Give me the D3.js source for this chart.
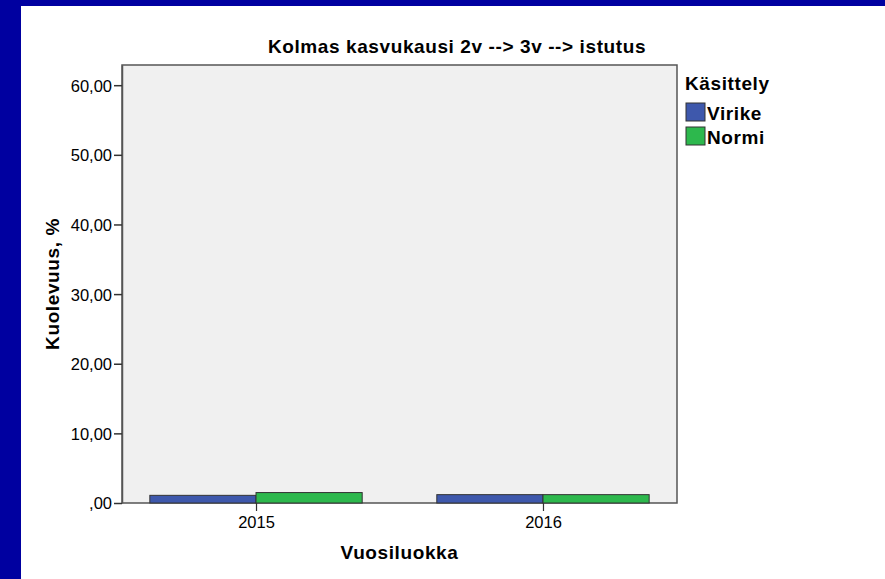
<!DOCTYPE html>
<html>
<head>
<meta charset="utf-8">
<script src="https://cdn.jsdelivr.net/npm/d3@7"></script>
<style>
  body { margin: 0; background: #fff; }
  text { font-family: "Liberation Sans", Arial, sans-serif; fill: #000; }
  .bold { font-size: 19px; font-weight: bold; letter-spacing: 0.6px; }
</style>
</head>
<body>
<div id="chart"></div>
<script>
// data
years = ["2015", "2016"];
groups = ["Virike", "Normi"];
virike = [1.1, 1.2];
normi = [1.5, 1.2];
yTicks = [0, 10, 20, 30, 40, 50, 60];
colors = ["#3e58ac", "#2db84d"];

width = 885;
height = 579;
plot = { left: 122, top: 65, right: 677, bottom: 503 };

svg = d3.select("#chart").append("svg")
    .attr("width", width)
    .attr("height", height);

// navy frame on left and top
svg.append("rect").attr("x", 0).attr("y", 0).attr("width", width).attr("height", height).attr("fill", "#0000a0");
svg.append("rect").attr("x", 21).attr("y", 6).attr("width", width - 21).attr("height", height - 6).attr("fill", "#fff");

/* Scales */
xScale = d3.scalePoint().domain(years)
    .range([plot.left, plot.right])
    .padding(0.467);
step = xScale.step();
barW = step * 0.37;

yScale = d3.scaleLinear().domain([0, 62.9]).range([plot.bottom, plot.top]);

// plot background
svg.append("rect")
    .attr("x", plot.left).attr("y", plot.top)
    .attr("width", plot.right - plot.left).attr("height", plot.bottom - plot.top)
    .attr("fill", "#f0f0f0")
    .attr("stroke", "#555").attr("stroke-width", 1.5);

/* Bars */
rows = years.map((y, i) => ({ year: y, values: [virike[i], normi[i]] }));
svg.append("g").selectAll("g")
    .data(rows).enter()
    .append("g")
    .selectAll("rect")
    .data(d => d.values.map((v, j) => ({ year: d.year, v: v, j: j }))).enter()
    .append("rect")
    .attr("x", d => xScale(d.year) + (d.j - 1) * barW)
    .attr("y", d => yScale(d.v))
    .attr("width", barW)
    .attr("height", d => yScale(0) - yScale(d.v))
    .attr("fill", d => colors[d.j])
    .attr("stroke", "#333").attr("stroke-width", 1);

/* Axes */
fmt = v => v === 0 ? ",00" : d3.format(".2f")(v).replace(".", ",");
yAxis = d3.axisLeft(yScale).tickValues(yTicks).tickFormat(fmt)
    .tickSize(8).tickSizeOuter(0).tickPadding(2);
yG = svg.append("g").attr("transform", `translate(${plot.left},0)`).call(yAxis);
yG.select(".domain").attr("stroke", "#555").attr("stroke-width", 1.5);
yG.selectAll(".tick line").attr("stroke", "#333").attr("stroke-width", 1.5);
yG.selectAll(".tick text").style("font-size", "16.5px").attr("dy", "0.36em").attr("fill", "#000");

xAxis = d3.axisBottom(xScale).tickSize(8).tickSizeOuter(0).tickPadding(5);
xG = svg.append("g").attr("transform", `translate(0,${plot.bottom})`).call(xAxis);
xG.select(".domain").remove();
xG.selectAll(".tick line").attr("stroke", "#333").attr("stroke-width", 1.2);
xG.selectAll(".tick text").style("font-size", "16.5px").attr("fill", "#000");

/* Titles */
svg.append("text")
    .attr("class", "bold")
    .attr("x", 457).attr("y", 53)
    .attr("text-anchor", "middle")
    .text("Kolmas kasvukausi 2v --> 3v --> istutus");

svg.append("text")
    .attr("class", "bold")
    .attr("x", (plot.left + plot.right) / 2).attr("y", 559)
    .attr("text-anchor", "middle")
    .text("Vuosiluokka");

svg.append("text")
    .attr("class", "bold")
    .attr("transform", `translate(59,${(plot.top + plot.bottom) / 2}) rotate(-90)`)
    .attr("text-anchor", "middle")
    .text("Kuolevuus, %");

/* Legend */
legend = svg.append("g").attr("transform", "translate(686,0)");
legend.append("text")
    .attr("class", "bold")
    .attr("x", -1).attr("y", 90)
    .text("Käsittely");
lg = legend.selectAll(".lg")
    .data(groups).enter()
    .append("g")
    .attr("class", "lg")
    .attr("transform", (d, i) => `translate(0,${103 + i * 24})`);
lg.append("rect")
    .attr("width", 19).attr("height", 18)
    .attr("fill", (d, i) => colors[i])
    .attr("stroke", "#333").attr("stroke-width", 1);
lg.append("text")
    .attr("class", "bold")
    .attr("x", 21).attr("y", 17)
    .text(d => d);
</script>
</body>
</html>
